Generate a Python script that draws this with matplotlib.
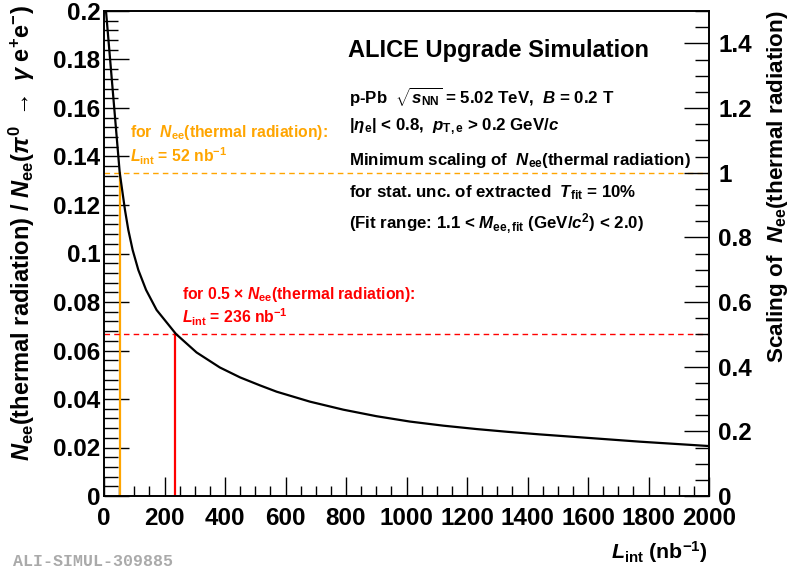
import numpy as np
import matplotlib
matplotlib.use("Agg")
import matplotlib.pyplot as plt
from matplotlib.ticker import MultipleLocator, FormatStrFormatter

# values
lumi = [6.6, 52, 69.4, 80.4, 94.8, 113.5, 139, 174, 238, 306, 383, 450, 516,
        571, 681, 791, 901, 1011, 1122, 1232, 1331, 1441, 1607, 1772, 2000]
ratio = [0.2, 0.1333, 0.1179, 0.1097, 0.1014, 0.0932, 0.0850, 0.0767, 0.0668,
         0.0592, 0.0530, 0.0489, 0.0456, 0.0430, 0.0389, 0.0356, 0.0329,
         0.0307, 0.0290, 0.0276, 0.0265, 0.0254, 0.0239, 0.0224, 0.0206]

lumi_full = 52       # nb^-1 for full thermal yield
ratio_full = 0.1333
lumi_half = 236      # nb^-1 for half thermal yield
ratio_half = 0.0668

scale_max = 1.5      # right axis range
ratio_max = 0.2

plt.rcParams["font.family"] = ["Liberation Sans", "DejaVu Sans"]
plt.rcParams["font.weight"] = "bold"
plt.rcParams["mathtext.fontset"] = "custom"
plt.rcParams["mathtext.rm"] = "Liberation Sans:bold"
plt.rcParams["mathtext.bf"] = "Liberation Sans:bold"
plt.rcParams["mathtext.it"] = "Liberation Sans:italic:bold"
plt.rcParams["mathtext.sf"] = "Liberation Sans:bold"

orange = "#ffa500"
red = "#ff0000"

fig = plt.figure(figsize=(7.91, 5.71), dpi=100)
W, H = 791, 571
ax = fig.add_axes([104 / W, 1 - 496 / H, 605 / W, 485 / H])

ax.plot(lumi, ratio, color="black", lw=1.6, zorder=3)

# orange: full yield
ax.axhline(ratio_full, color=orange, lw=1.0, ls=(0, (4, 3)))
ax.plot([lumi_full, lumi_full], [0, ratio_full], color=orange, lw=1.6)
# red: half yield
ax.axhline(ratio_half, color=red, lw=1.0, ls=(0, (4, 3)))
ax.plot([lumi_half, lumi_half], [0, ratio_half], color=red, lw=1.6)

ax.set_xlim(0, 2000)
ax.set_ylim(0, ratio_max)
ax.xaxis.set_major_locator(MultipleLocator(200))
ax.xaxis.set_minor_locator(MultipleLocator(50))
ax.yaxis.set_major_locator(MultipleLocator(0.02))
ax.yaxis.set_minor_locator(MultipleLocator(0.004))
ax.yaxis.set_major_formatter(FormatStrFormatter("%g"))
ax.xaxis.set_major_formatter(FormatStrFormatter("%g"))
ax.tick_params(axis="x", which="major", direction="in", length=14, width=1,
               labelsize=17.5, pad=8, top=False)
ax.tick_params(axis="x", which="minor", direction="in", length=7, width=1, top=False)
ax.tick_params(axis="y", which="major", direction="in", length=18, width=1,
               labelsize=17.5, pad=2.5, right=False)
ax.tick_params(axis="y", which="minor", direction="in", length=10, width=1, right=False)
for s in ax.spines.values():
    s.set_linewidth(1.2)

ax2 = ax.twinx()
ax2.set_ylim(0, scale_max)
ax2.yaxis.set_major_locator(MultipleLocator(0.2))
ax2.yaxis.set_minor_locator(MultipleLocator(0.05))
ax2.yaxis.set_major_formatter(FormatStrFormatter("%g"))
ax2.tick_params(axis="y", which="major", direction="in", length=18, width=1,
                labelsize=17.5, pad=6.5)
ax2.tick_params(axis="y", which="minor", direction="in", length=10, width=1)
for s in ax2.spines.values():
    s.set_linewidth(1.2)

# axis titles
fig.text(22 / W, 1 - 5 / H,
         r"$N_{\rm ee}$(thermal radiation) / $N_{\rm ee}$($\pi^{0}$ $\rightarrow$ $\gamma$ e$^{+}$e$^{-}$)",
         rotation=90, ha="center", va="top", fontsize=17)
fig.text(777 / W, 1 - 10 / H, r"Scaling of  $N_{\rm ee}$(thermal radiation)",
         rotation=90, ha="center", va="top", fontsize=16.2)
fig.text(708 / W, 1 - 552 / H, r"$L_{\rm int}$ (nb$^{-1}$)",
         ha="right", va="center", fontsize=15.4)

# legend-like text
fig.text(348 / W, 1 - 51 / H, "ALICE Upgrade Simulation", ha="left", va="center",
         fontsize=17)
info = [
    (97, r"p-Pb  $\sqrt{s_{\rm NN}}$ = 5.02 TeV,  $B$ = 0.2 T"),
    (127, r"$|\eta_{\rm e}|$ < 0.8,  $p_{\rm T,e}$ > 0.2 GeV/$c$"),
    (160, r"Minimum scaling of  $N_{\rm ee}$(thermal radiation)"),
    (193, r"for stat. unc. of extracted  $T_{\rm fit}$ = 10%"),
    (224, r"(Fit range: 1.1 < $M_{\rm ee,fit}$ (GeV/$c^{2}$) < 2.0)"),
]
for yy, txt in info:
    fig.text(349 / W, 1 - yy / H, txt, ha="left", va="center", fontsize=12.2)

fig.text(130 / W, 1 - 133 / H, r"for  $N_{\rm ee}$(thermal radiation):",
         color=orange, ha="left", va="center", fontsize=11.3)
fig.text(130 / W, 1 - 156 / H, r"$L_{\rm int}$ = 52 nb$^{-1}$",
         color=orange, ha="left", va="center", fontsize=11.3)
fig.text(182 / W, 1 - 294 / H, r"for 0.5 $\times$ $N_{\rm ee}$(thermal radiation):",
         color=red, ha="left", va="center", fontsize=11.3)
fig.text(182 / W, 1 - 317 / H, r"$L_{\rm int}$ = 236 nb$^{-1}$",
         color=red, ha="left", va="center", fontsize=11.3)

fig.text(13 / W, 1 - 562 / H, "ALI-SIMUL-309885", family="Liberation Mono",
         color="#aaaaaa", ha="left", va="center", fontsize=12)

fig.savefig("out.png", dpi=100)
